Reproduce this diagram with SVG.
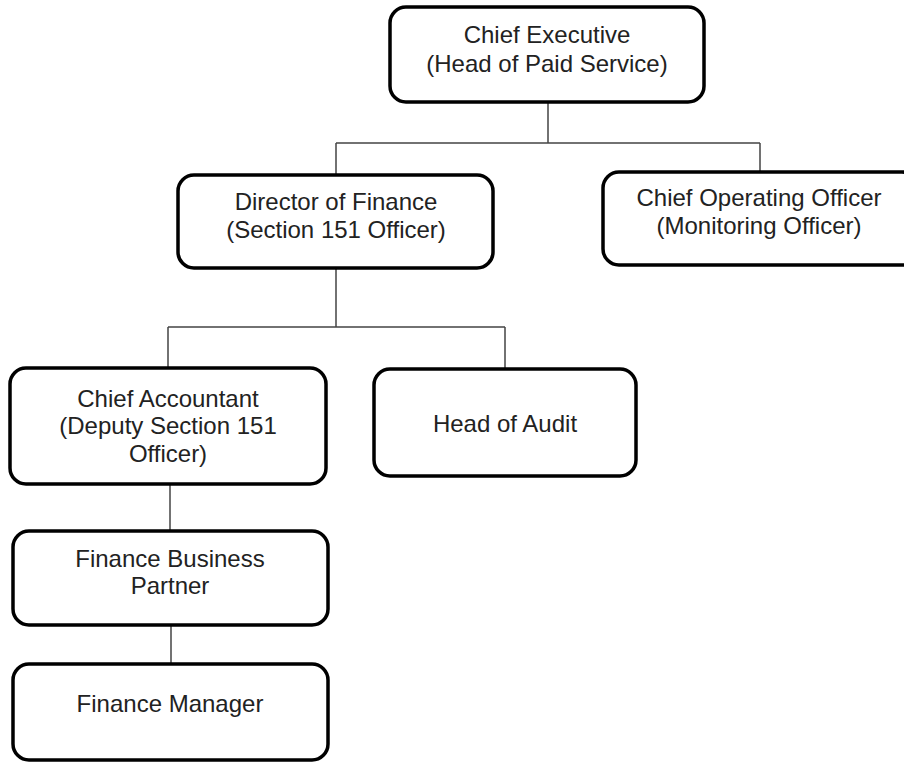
<svg xmlns="http://www.w3.org/2000/svg" width="904" height="765" viewBox="0 0 904 765">
<style>
.box{fill:#fff;stroke:#000;stroke-width:3.5}
.t{font-family:"Liberation Sans",Arial,sans-serif;font-size:24px;fill:#222;text-anchor:middle}
.c{stroke:#444;stroke-width:1.5;fill:none}
</style>
<rect width="904" height="765" fill="#fff"/>
<g id="connectors">
<path class="c" d="M548 102 V143 M336 143 H760 M336 143 V175 M760 143 V172"/>
<path class="c" d="M336 268 V327 M168 327 H505 M168 327 V368 M505 327 V369"/>
<path class="c" d="M170 484 V531"/>
<path class="c" d="M171 625 V664"/>
</g>
<g id="chief-executive">
<rect class="box" x="390" y="7" width="314" height="95" rx="16"/>
<text class="t" x="547" y="43">Chief Executive</text>
<text class="t" x="547" y="72">(Head of Paid Service)</text>
</g>
<g id="director-finance">
<rect class="box" x="178" y="175" width="315" height="93" rx="16"/>
<text class="t" x="336" y="210">Director of Finance</text>
<text class="t" x="336" y="238">(Section 151 Officer)</text>
</g>
<g id="coo">
<rect class="box" x="603" y="172" width="315" height="93" rx="16"/>
<text class="t" x="759" y="206">Chief Operating Officer</text>
<text class="t" x="759" y="234">(Monitoring Officer)</text>
</g>
<g id="chief-accountant">
<rect class="box" x="10" y="368" width="316" height="116" rx="16"/>
<text class="t" x="168" y="407">Chief Accountant</text>
<text class="t" x="168" y="434">(Deputy Section 151</text>
<text class="t" x="168" y="462">Officer)</text>
</g>
<g id="head-audit">
<rect class="box" x="374" y="369" width="262" height="107" rx="16"/>
<text class="t" x="505" y="432">Head of Audit</text>
</g>
<g id="finance-business-partner">
<rect class="box" x="13" y="531" width="315" height="94" rx="16"/>
<text class="t" x="170" y="567">Finance Business</text>
<text class="t" x="170" y="594">Partner</text>
</g>
<g id="finance-manager">
<rect class="box" x="13" y="664" width="315" height="96" rx="16"/>
<text class="t" x="170" y="712">Finance Manager</text>
</g>
</svg>
